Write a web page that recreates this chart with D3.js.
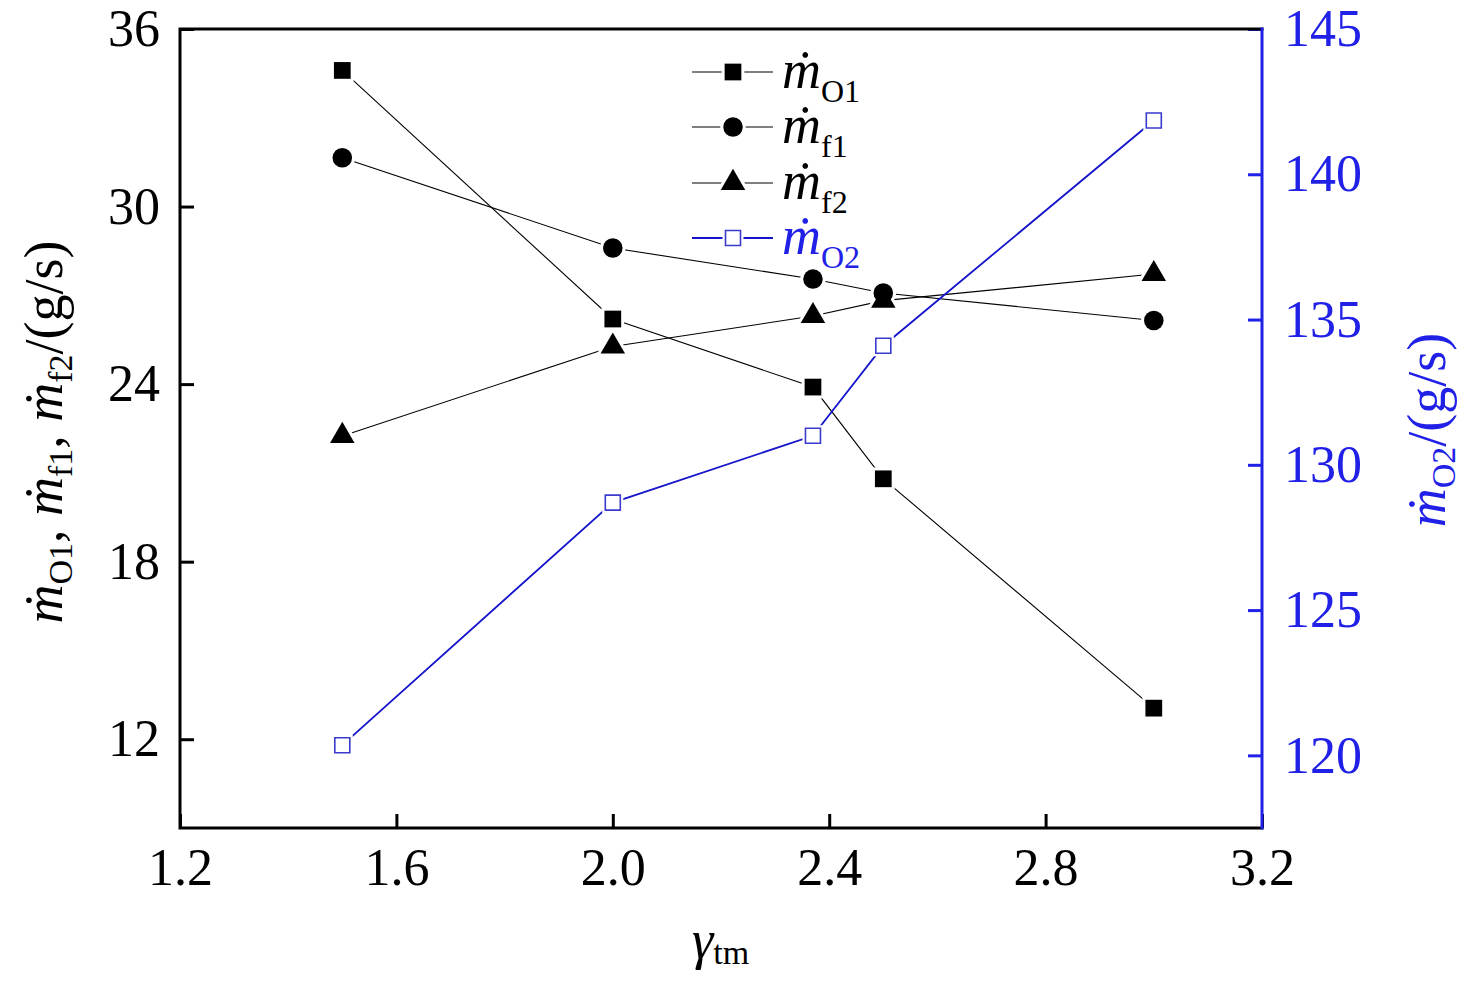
<!DOCTYPE html>
<html>
<head>
<meta charset="utf-8">
<script src="https://cdn.jsdelivr.net/npm/d3@7"></script>
<style>
  body { margin: 0; background: #fff; }
  svg text { font-family: "Liberation Serif", "DejaVu Serif", serif; }
</style>
</head>
<body>
<svg id="chart" width="1476" height="982"></svg>
<script>
// values
const ratio = [1.5, 2.0, 2.37, 2.5, 3.0];
const mO1 = [34.6, 26.2, 23.9, 20.8, 13.05];
const mf1 = [31.65, 28.6, 27.55, 27.08, 26.15];
const mf2 = [22.25, 25.27, 26.3, 26.82, 27.72];
const mO2 = [120.35, 128.7, 131.0, 134.1, 141.85];

const xTicks = [1.2, 1.6, 2.0, 2.4, 2.8, 3.2];
const yLeftTicks = [12, 18, 24, 30, 36];
const yRightTicks = [120, 125, 130, 135, 140, 145];

const blue = '#2020e6';
const lineBlue = '#1414cc';
const dot = '\u1E41';

const pLeft = 180, pRight = 1262, pTop = 29, pBottom = 828;

const svg = d3.select('#chart');

const x = d3.scaleLinear().domain([1.2, 3.2]).range([pLeft, pRight]);
const yL = d3.scaleLinear().domain([9, 36]).range([pBottom, pTop]);
const yR = d3.scaleLinear().domain([117.5, 145]).range([pBottom, pTop]);

// axes, ticks point inward
const gx = svg.append('g')
  .attr('transform', `translate(0,${pBottom})`)
  .call(d3.axisBottom(x).tickValues(xTicks).tickFormat(d3.format('.1f'))
    .tickSize(-14).tickSizeOuter(0).tickPadding(20));

const gl = svg.append('g')
  .attr('transform', `translate(${pLeft},0)`)
  .call(d3.axisLeft(yL).tickValues(yLeftTicks).tickFormat(d3.format('d'))
    .tickSize(-14).tickSizeOuter(0).tickPadding(20));

const gr = svg.append('g')
  .attr('transform', `translate(${pRight},0)`)
  .call(d3.axisRight(yR).tickValues(yRightTicks).tickFormat(d3.format('d'))
    .tickSize(-14).tickSizeOuter(0).tickPadding(22));

[gx, gl, gr].forEach(g => {
  g.selectAll('.domain').remove();
  g.selectAll('text').attr('font-size', 52).attr('fill', '#000');
  g.selectAll('line').attr('stroke-width', 3).attr('stroke', '#000');
});
gr.selectAll('text').attr('fill', blue);
gr.selectAll('line').attr('stroke', blue);

// frame
svg.append('path')
  .attr('d', `M${pRight},${pTop}H${pLeft}V${pBottom}H${pRight}`)
  .attr('fill', 'none').attr('stroke', '#000').attr('stroke-width', 3)
  .attr('stroke-linecap', 'square');
svg.append('line')
  .attr('x1', pRight).attr('x2', pRight).attr('y1', pTop - 1.5).attr('y2', pBottom + 1.5)
  .attr('stroke', blue).attr('stroke-width', 3);

// series
const series = [
  { vals: mO1, y: yL, shape: d3.symbolSquare, size: 280, color: '#000', open: false, width: 1.1, sub: 'O1' },
  { vals: mf1, y: yL, shape: d3.symbolCircle, size: 300, color: '#000', open: false, width: 1.1, sub: 'f1' },
  { vals: mf2, y: yL, shape: d3.symbolTriangle, size: 260, color: '#000', open: false, width: 1.1, sub: 'f2' },
  { vals: mO2, y: yR, shape: d3.symbolSquare, size: 225, color: lineBlue, open: true, width: 1.8, sub: 'O2' }
];

const lines = svg.append('g');
const halos = svg.append('g');
const marks = svg.append('g');

series.forEach(s => {
  const line = d3.line().x((d, i) => x(ratio[i])).y(d => s.y(d));
  lines.append('path')
    .datum(s.vals)
    .attr('d', line)
    .attr('fill', 'none')
    .attr('stroke', s.color)
    .attr('stroke-width', s.width);
});

function marker(s, cx, cy) {
  const sym = d3.symbol().type(s.shape).size(s.size);
  // white halo so lines stop short of markers
  halos.append('path').attr('d', sym())
    .attr('transform', `translate(${cx},${cy})`)
    .attr('fill', '#fff').attr('stroke', '#fff').attr('stroke-width', 6);
  marks.append('path').attr('d', sym())
    .attr('transform', `translate(${cx},${cy})`)
    .attr('fill', s.open ? '#fff' : s.color)
    .attr('stroke', s.open ? '#3a3acc' : 'none')
    .attr('stroke-width', 1.6);
}

series.forEach(s => {
  s.vals.forEach((v, i) => marker(s, x(ratio[i]), s.y(v)));
});

// legend
const legend = svg.append('g');
const rowY = [72, 127, 183, 238];
series.forEach((s, i) => {
  const yy = rowY[i];
  lines.append('line')
    .attr('x1', 692).attr('x2', 773).attr('y1', yy).attr('y2', yy)
    .attr('stroke', s.color).attr('stroke-width', s.width);
  marker(s, 733, yy);
  const t = legend.append('text')
    .attr('x', 782).attr('y', yy + 16)
    .attr('fill', s.open ? blue : '#000');
  t.append('tspan').attr('font-style', 'italic').attr('font-size', 54).text(dot);
  t.append('tspan').attr('font-size', 32).attr('dy', 14).text(s.sub);
});

// axis titles
const xt = svg.append('text')
  .attr('x', 692).attr('y', 958).attr('fill', '#000');
xt.append('tspan').attr('font-style', 'italic').attr('font-size', 54).text('\u03B3');
xt.append('tspan').attr('font-size', 34).attr('dy', 6).text('tm');

const lt = svg.append('text')
  .attr('transform', `translate(62,432) rotate(-90)`)
  .attr('text-anchor', 'middle').attr('fill', '#000');
[['O1', ', '], ['f1', ', '], ['f2', '/(g/s)']].forEach(([sub, tail]) => {
  lt.append('tspan').attr('font-style', 'italic').attr('font-size', 54).attr('dy', 0).text(dot);
  lt.append('tspan').attr('font-size', 34).attr('dy', 10).text(sub);
  lt.append('tspan').attr('font-size', 54).attr('dy', -10).text(tail);
});

const rt = svg.append('text')
  .attr('transform', `translate(1445,430) rotate(-90)`)
  .attr('text-anchor', 'middle').attr('fill', blue);
rt.append('tspan').attr('font-style', 'italic').attr('font-size', 54).text(dot);
rt.append('tspan').attr('font-size', 34).attr('dy', 10).text('O2');
rt.append('tspan').attr('font-size', 54).attr('dy', -10).text('/(g/s)');
</script>
</body>
</html>
